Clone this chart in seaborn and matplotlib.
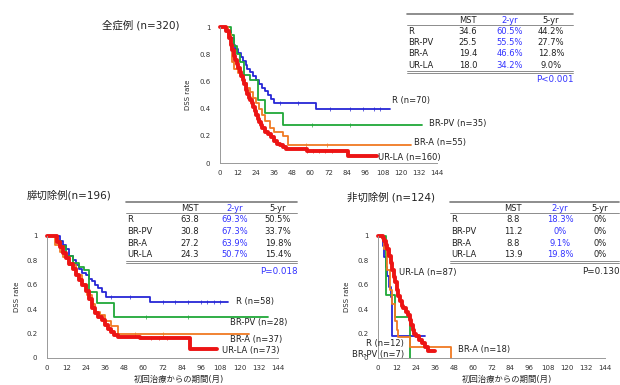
import numpy as np
import matplotlib.pyplot as plt
import seaborn as sns
from matplotlib.lines import Line2D

# DSS curves by resectability group, three panels with summary tables

groups = ['R', 'BR-PV', 'BR-A', 'UR-LA']
colors = ['#2626d6', '#20a838', '#f07a22', '#ec1414']
widths = [1.3, 1.3, 1.3, 2.8]
xticks = list(range(0, 145, 12))
yticks = [0, 0.2, 0.4, 0.6, 0.8, 1]
ytick_labels = ['0', '0.2', '0.4', '0.6', '0.8', '1']

# --- 全症例 (all cases) ---
all_r_t = [0, 5, 7, 9, 10, 12, 14, 15, 17, 18, 20, 22, 24, 26, 28, 30, 32, 34, 36, 64, 113]
all_r_s = [1, 0.97, 0.92, 0.87, 0.84, 0.81, 0.78, 0.75, 0.72, 0.69, 0.67, 0.64, 0.61, 0.58, 0.55, 0.53, 0.50, 0.47, 0.44, 0.40, 0.40]
all_pv_t = [0, 7, 9, 11, 13, 16, 20, 25, 30, 42, 134]
all_pv_s = [1, 0.94, 0.86, 0.80, 0.74, 0.65, 0.61, 0.46, 0.37, 0.28, 0.28]
all_a_t = [0, 5, 7, 8, 9, 12, 14, 16, 18, 20, 22, 24, 26, 28, 30, 33, 36, 42, 45, 127]
all_a_s = [1, 0.95, 0.85, 0.74, 0.69, 0.66, 0.63, 0.59, 0.55, 0.52, 0.48, 0.44, 0.40, 0.35, 0.31, 0.26, 0.23, 0.20, 0.13, 0.13]
all_la_t = [0, 4, 6, 7, 8, 9, 10, 11, 12, 13, 14, 15, 16, 17, 18, 19, 20, 21, 22, 23, 24, 25, 26, 27, 28, 30, 32, 34, 36, 38, 40, 42, 44, 48, 58, 85, 104]
all_la_s = [1, 0.97, 0.92, 0.87, 0.83, 0.79, 0.76, 0.73, 0.70, 0.67, 0.64, 0.61, 0.58, 0.54, 0.51, 0.48, 0.46, 0.44, 0.41, 0.38, 0.35, 0.32, 0.30, 0.28, 0.26, 0.23, 0.21, 0.19, 0.16, 0.14, 0.13, 0.12, 0.105, 0.10, 0.085, 0.05, 0.05]
all_cens = [[40, 52, 73, 86, 95, 102, 106], [61, 86], [57, 71], [58, 62, 66, 70, 74]]
all_mst = ['34.6', '25.5', '19.4', '18.0']
all_2yr = ['60.5%', '55.5%', '46.6%', '34.2%']
all_5yr = ['44.2%', '27.7%', '12.8%', '9.0%']
all_p = 'P<0.001'
all_n = ['R (n=70)', 'BR-PV (n=35)', 'BR-A (n=55)', 'UR-LA (n=160)']

# --- 膵切除例 (resected) ---
res_r_t = [0, 8, 10, 12, 14, 16, 18, 20, 22, 24, 26, 28, 30, 32, 34, 37, 64, 113]
res_r_s = [1, 0.96, 0.93, 0.89, 0.84, 0.80, 0.76, 0.73, 0.70, 0.68, 0.65, 0.63, 0.60, 0.57, 0.54, 0.50, 0.46, 0.46]
res_pv_t = [0, 6, 9, 12, 16, 20, 23, 26, 31, 42, 138]
res_pv_s = [1, 0.96, 0.92, 0.84, 0.78, 0.75, 0.72, 0.54, 0.45, 0.34, 0.34]
res_a_t = [0, 5, 8, 10, 14, 18, 22, 25, 28, 30, 33, 36, 40, 44, 126]
res_a_s = [1, 0.93, 0.87, 0.83, 0.76, 0.68, 0.60, 0.52, 0.44, 0.38, 0.35, 0.30, 0.26, 0.20, 0.20]
res_la_t = [0, 6, 8, 10, 12, 14, 16, 18, 20, 22, 24, 26, 28, 30, 32, 34, 36, 38, 40, 42, 44, 58, 89, 106]
res_la_s = [1, 0.95, 0.91, 0.86, 0.82, 0.77, 0.73, 0.68, 0.64, 0.60, 0.55, 0.48, 0.41, 0.37, 0.34, 0.31, 0.27, 0.24, 0.21, 0.19, 0.175, 0.16, 0.075, 0.075]
res_cens = [[40, 52, 72, 80, 88, 96, 100, 104, 108], [62, 88], [55, 72], [65, 70, 75]]
res_mst = ['63.8', '30.8', '27.2', '24.3']
res_2yr = ['69.3%', '67.3%', '63.9%', '50.7%']
res_5yr = ['50.5%', '33.7%', '19.8%', '15.4%']
res_p = 'P=0.018'
res_n = ['R (n=58)', 'BR-PV (n=28)', 'BR-A (n=37)', 'UR-LA (n=73)']

# --- 非切除例 (non-resected) ---
non_r_t = [0, 3, 4, 5, 6, 7, 8, 9, 30]
non_r_s = [1, 0.92, 0.83, 0.75, 0.67, 0.58, 0.50, 0.18, 0.18]
non_pv_t = [0, 5, 10.6, 20.1]
non_pv_s = [1, 0.52, 0.34, 0]
non_a_t = [0, 4, 6, 7.4, 9, 10.6, 12, 13, 20, 46]
non_a_s = [1, 0.89, 0.72, 0.56, 0.44, 0.30, 0.23, 0.17, 0.09, 0]
non_la_t = [0, 3, 4, 5, 6, 7, 8, 9, 10, 11, 12, 13, 14, 15, 16, 18, 19, 20, 21, 22, 23, 24, 26, 28, 30, 32, 36]
non_la_s = [1, 0.98, 0.96, 0.93, 0.89, 0.84, 0.78, 0.72, 0.66, 0.62, 0.56, 0.51, 0.47, 0.43, 0.41, 0.38, 0.35, 0.31, 0.27, 0.23, 0.20, 0.18, 0.15, 0.12, 0.09, 0.055, 0.055]
non_cens = [[], [], [], []]
non_mst = ['8.8', '11.2', '8.8', '13.9']
non_2yr = ['18.3%', '0%', '9.1%', '19.8%']
non_5yr = ['0%', '0%', '0%', '0%']
non_p = 'P=0.130'
non_n = ['R (n=12)', 'BR-PV (n=7)', 'BR-A (n=18)', 'UR-LA (n=87)']

xlabel = '初回治療からの期間(月)'

sns.set_style('white')
plt.rcParams['font.family'] = ['DejaVu Sans', 'Noto Sans CJK JP']
plt.rcParams['text.color'] = '#222222'

fig = plt.figure(figsize=(6.2, 3.85), dpi=100)
W, H = 620.0, 385.0


def px_axes(x0, y0, x1, y1):
    # pixel box (top-left origin) -> figure axes
    return fig.add_axes([x0 / W, 1 - y1 / H, (x1 - x0) / W, (y1 - y0) / H])


def fx(x):
    return x / W


def fy(y):
    return 1 - y / H


def surv_at(t, s, x):
    idx = np.searchsorted(t, x, side='right') - 1
    return np.array(s)[idx]


def draw_panel(ax, curves, cens, labels, label_pos, show_xlabel, ylab_x):
    for i, (t, s) in enumerate(curves):
        sns.lineplot(x=t, y=s, drawstyle='steps-post', estimator=None, sort=False,
                     color=colors[i], lw=widths[i], ax=ax, clip_on=False)
        if cens[i]:
            cy = surv_at(t, s, cens[i])
            sns.scatterplot(x=cens[i], y=cy, marker='|', s=7, color=colors[i],
                            linewidth=0.5, ax=ax, clip_on=False)
    for lab, (lx, ly) in zip(labels, label_pos):
        ax.text(lx, ly, lab, fontsize=6, va='center', ha='left', clip_on=False)
    ax.set_xlim(0, 144)
    ax.set_ylim(0, 1)
    ax.set_xticks(xticks)
    ax.set_yticks(yticks)
    ax.set_yticklabels(ytick_labels)
    ax.tick_params(axis='x', length=2, pad=3, labelsize=5, colors='#333333')
    ax.tick_params(axis='y', length=2, pad=5, labelsize=5, colors='#333333')
    for sp in ['top', 'right']:
        ax.spines[sp].set_visible(False)
    for sp in ['left', 'bottom']:
        ax.spines[sp].set_color('#999999')
        ax.spines[sp].set_linewidth(0.7)
    ax.set_ylabel('DSS rate', fontsize=5)
    ax.yaxis.set_label_coords(ylab_x, 0.5)
    if show_xlabel:
        ax.set_xlabel(xlabel, fontsize=6)
        ax.xaxis.set_label_coords(0.57, -0.14)
    else:
        ax.set_xlabel('')


def draw_table(x0, x1, cols, mst, y2, y5, pval, pcolor, top=False):
    if top:
        ytop, yhl, yh, rows, yb, yp = 14, 25, 20.5, [31.5, 42.5, 53.5, 65], 70.5, 80
    else:
        ytop, yhl, yh, rows, yb, yp = 202, 213, 209, [219.5, 231, 243, 254.5], 260.5, 271
    gray = '#7a7a7a'
    fig.add_artist(Line2D([fx(x0), fx(x1)], [fy(ytop)] * 2, color=gray, lw=1.2))
    fig.add_artist(Line2D([fx(x0), fx(x1)], [fy(yhl)] * 2, color=gray, lw=0.6))
    fig.add_artist(Line2D([fx(x0), fx(x1)], [fy(yb)] * 2, color=gray, lw=0.6))
    fig.add_artist(Line2D([fx(x0), fx(x1)], [fy(yb + 2)] * 2, color=gray, lw=0.6))
    fs = 6
    fig.text(fx(cols[0]), fy(yh), 'MST', fontsize=fs, ha='center', va='center')
    fig.text(fx(cols[1]), fy(yh), '2-yr', fontsize=fs, ha='center', va='center', color='#3333ff')
    fig.text(fx(cols[2]), fy(yh), '5-yr', fontsize=fs, ha='center', va='center')
    for i, g in enumerate(groups):
        fig.text(fx(x0 + 1), fy(rows[i]), g, fontsize=fs, ha='left', va='center')
        fig.text(fx(cols[0]), fy(rows[i]), mst[i], fontsize=fs, ha='center', va='center')
        fig.text(fx(cols[1]), fy(rows[i]), y2[i], fontsize=fs, ha='center', va='center', color='#3333ff')
        fig.text(fx(cols[2]), fy(rows[i]), y5[i], fontsize=fs, ha='center', va='center')
    fig.text(fx(x1 + 1), fy(yp), pval, fontsize=6.3, ha='right', va='center', color=pcolor)


# top panel
ax1 = px_axes(220, 27, 437, 163)
draw_panel(ax1,
           [(all_r_t, all_r_s), (all_pv_t, all_pv_s), (all_a_t, all_a_s), (all_la_t, all_la_s)],
           all_cens, all_n,
           [(114, 0.46), (139, 0.29), (129, 0.15), (105, 0.04)],
           False, -0.135)
fig.text(fx(102), fy(25), '全症例 (n=320)', fontsize=7.5, ha='left', va='center')
draw_table(407, 573, [468, 510, 551], all_mst, all_2yr, all_5yr, all_p, '#3333ff', top=True)

# bottom left
ax2 = px_axes(47, 236, 278, 358)
draw_panel(ax2,
           [(res_r_t, res_r_s), (res_pv_t, res_pv_s), (res_a_t, res_a_s), (res_la_t, res_la_s)],
           res_cens, res_n,
           [(118, 0.46), (114, 0.29), (114, 0.155), (109, 0.06)],
           True, -0.117)
fig.text(fx(27), fy(195), '膵切除例(n=196)', fontsize=7.5, ha='left', va='center')
draw_table(126, 297, [190, 235, 278], res_mst, res_2yr, res_5yr, res_p, '#3333ff')

# bottom right
ax3 = px_axes(378, 236, 605, 358)
draw_panel(ax3,
           [(non_r_t, non_r_s), (non_pv_t, non_pv_s), (non_a_t, non_a_s), (non_la_t, non_la_s)],
           non_cens, non_n,
           [(-7.6, 0.115), (-16.5, 0.03), (51, 0.07), (13.3, 0.70)],
           True, -0.123)
fig.text(fx(347), fy(197), '非切除例 (n=124)', fontsize=7.5, ha='left', va='center')
draw_table(450, 619, [513, 560, 600], non_mst, non_2yr, non_5yr, non_p, '#222222')

fig.savefig('out.png', dpi=100)
print("saved out.png")
